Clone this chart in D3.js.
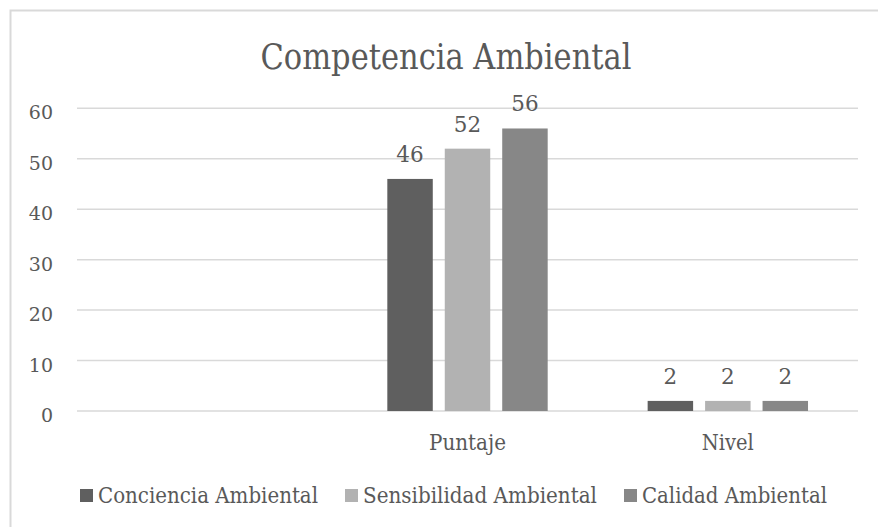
<!DOCTYPE html>
<html>
<head>
<meta charset="utf-8">
<script src="https://cdn.jsdelivr.net/npm/d3@7"></script>
<style>
  html, body { margin: 0; padding: 0; background: #ffffff; }
  svg { display: block; }
  text { font-family: "DejaVu Serif", "Liberation Serif", serif; fill: #595959; }
</style>
</head>
<body>
<svg id="chart" width="878" height="527"></svg>
<script>
// Chart data
const title = "Competencia Ambiental";
const categories = ["", "Puntaje", "Nivel"];
const seriesNames = ["Conciencia Ambiental", "Sensibilidad Ambiental", "Calidad Ambiental"];
const concienciaValues = [null, 46, 2];
const sensibilidadValues = [null, 52, 2];
const calidadValues = [null, 56, 2];
const yTicks = [0, 10, 20, 30, 40, 50, 60];
const seriesColors = ["#5f5f5f", "#b2b2b2", "#878787"];

const seriesValues = [concienciaValues, sensibilidadValues, calidadValues];

const svg = d3.select("#chart");

// Chart frame
svg.append("rect")
  .attr("x", 10.5).attr("y", 10.5)
  .attr("width", 900).attr("height", 560)
  .attr("fill", "none")
  .attr("stroke", "#d9d9d9")
  .attr("stroke-width", 2);

const plot = { left: 77, right: 858, top: 108.3, bottom: 411 };

const y = d3.scaleLinear().domain([0, 60]).range([plot.bottom, plot.top]);
const x0 = d3.scaleBand().domain(categories).range([plot.left, plot.right]).padding(0);
const x1 = d3.scaleBand().domain(seriesNames).range([0, x0.bandwidth()])
  .paddingInner(0.2087).paddingOuter(0.87);

// Gridlines
svg.append("g")
  .selectAll("line")
  .data(yTicks)
  .join("line")
  .attr("x1", plot.left).attr("x2", plot.right)
  .attr("y1", d => y(d)).attr("y2", d => y(d))
  .attr("stroke", "#d9d9d9")
  .attr("stroke-width", 1.5);

// Y axis labels
const yAxis = d3.axisLeft(y).tickValues(yTicks).tickSize(0).tickPadding(0);
const yG = svg.append("g")
  .attr("transform", `translate(${plot.left - 24},0)`)
  .call(yAxis);
yG.select(".domain").remove();
yG.selectAll("text")
  .attr("font-family", "DejaVu Serif")
  .attr("font-size", 19)
  .attr("fill", "#595959")
  .attr("dy", "0.55em")
  .attr("dx", 0);

// Bars
const bars = [];
categories.forEach((c, ci) => {
  seriesNames.forEach((s, si) => {
    const v = seriesValues[si][ci];
    if (v !== null) bars.push({ cat: c, series: s, value: v, color: seriesColors[si] });
  });
});

svg.append("g")
  .selectAll("rect")
  .data(bars)
  .join("rect")
  .attr("x", d => x0(d.cat) + x1(d.series))
  .attr("y", d => y(d.value))
  .attr("width", x1.bandwidth())
  .attr("height", d => y(0) - y(d.value))
  .attr("fill", d => d.color);

// Value labels
svg.append("g")
  .selectAll("text")
  .data(bars)
  .join("text")
  .attr("x", d => x0(d.cat) + x1(d.series) + x1.bandwidth() / 2)
  .attr("y", d => y(d.value) - 17)
  .attr("text-anchor", "middle")
  .attr("font-size", 21.5)
  .text(d => d.value);

// Category labels
const catWidths = { "Puntaje": 77, "Nivel": 52 };
svg.append("g")
  .selectAll("text")
  .data(categories.filter(c => c !== ""))
  .join("text")
  .attr("x", d => x0(d) + x0.bandwidth() / 2)
  .attr("y", plot.bottom + 38.5)
  .attr("text-anchor", "middle")
  .attr("font-size", 22)
  .attr("textLength", d => catWidths[d])
  .attr("lengthAdjust", "spacingAndGlyphs")
  .text(d => d);

// Title
svg.append("text")
  .attr("x", 446)
  .attr("y", 68.5)
  .attr("text-anchor", "middle")
  .attr("font-size", 34.5)
  .attr("textLength", 371)
  .attr("lengthAdjust", "spacingAndGlyphs")
  .text(title);

// Legend
const legendItems = [
  { name: seriesNames[0], color: seriesColors[0], sx: 80, tx: 98, w: 220 },
  { name: seriesNames[1], color: seriesColors[1], sx: 345, tx: 363, w: 234 },
  { name: seriesNames[2], color: seriesColors[2], sx: 624, tx: 642, w: 185 }
];
const lg = svg.append("g").selectAll("g").data(legendItems).join("g");
lg.append("rect")
  .attr("x", d => d.sx).attr("y", 489)
  .attr("width", 13).attr("height", 13)
  .attr("fill", d => d.color);
lg.append("text")
  .attr("x", d => d.tx)
  .attr("y", 502.5)
  .attr("font-size", 22)
  .attr("textLength", d => d.w)
  .attr("lengthAdjust", "spacingAndGlyphs")
  .text(d => d.name);
</script>
</body>
</html>
